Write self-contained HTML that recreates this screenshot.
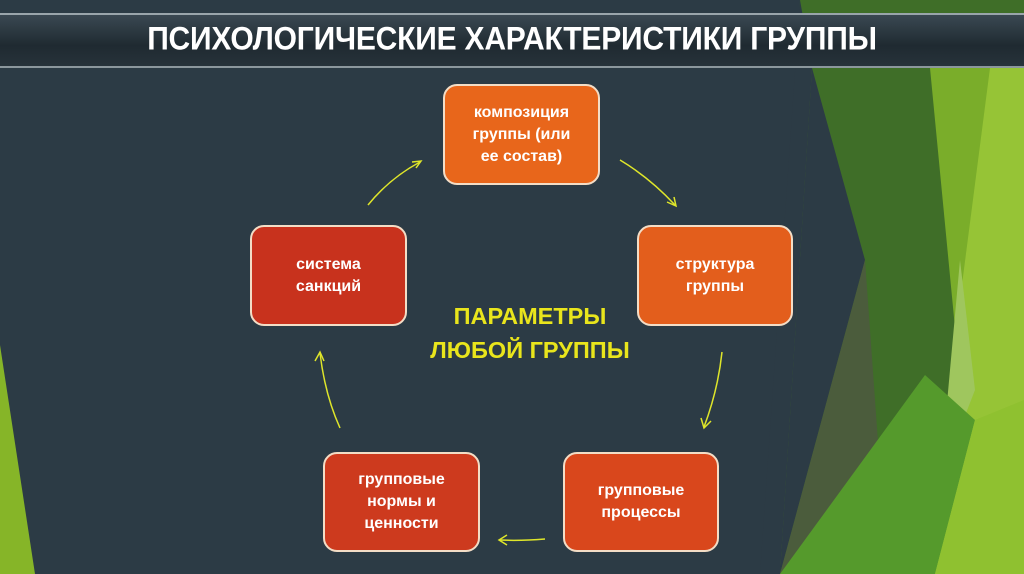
<!DOCTYPE html>
<html><head><meta charset="utf-8"><style>
html,body{margin:0;padding:0}
body{width:1024px;height:574px;position:relative;overflow:hidden;background:#2c3b45;font-family:"Liberation Sans",sans-serif}
svg{position:absolute;left:0;top:0}
.hdr{position:absolute;left:0;top:13px;width:1024px;height:55px;background:linear-gradient(#3a4852,#1f2a31 60%,#27323a);border-top:2px solid #9aa5ab;border-bottom:2px solid #8c979d;box-sizing:border-box}
.hdr div{position:absolute;left:0;width:1024px;top:8px;text-align:center;color:#fff;font-weight:bold;font-size:30px;letter-spacing:-0.2px;transform:scaleY(1.08)}
.n{position:absolute;box-sizing:border-box;border:2px solid #f3ddc6;border-radius:14px;color:#fff;font-weight:bold;font-size:16px;line-height:22px;display:flex;align-items:center;justify-content:center;text-align:center}
.c{position:absolute;left:380px;width:300px;top:299px;text-align:center;color:#e9e51c;font-weight:bold;font-size:23.5px;line-height:34px}
</style></head><body>
<svg width="1024" height="574">
<polygon points="0,345 35,574 0,574" fill="#86b528"/>
<polygon points="800,0 1024,0 1024,574 780,574" fill="#3f6e28"/>
<polygon points="812,68 780,574 760,574 800,0" fill="#2c3b45"/>
<polygon points="812,68 865,260 780,574" fill="#2c3b45"/>
<polygon points="865,260 880,470 800,574 780,574" fill="#4b5c3c"/>
<polygon points="930,68 1024,68 1024,574 900,574 960,380" fill="#7aad2a"/>
<polygon points="990,68 1024,68 1024,574 930,574 960,300" fill="#96c436"/>
<polygon points="960,260 975,390 940,480" fill="#9fc65e"/>
<polygon points="780,574 925,375 975,420 935,574" fill="#559a2c"/>
<polygon points="935,574 975,420 1024,400 1024,574" fill="#8fc130"/>
<g fill="none" stroke="#dfe62a" stroke-width="1.5">
<path d="M368,205 Q390,178 420,162"/><path d="M412,162 L421,161 L416,168"/>
<path d="M620,160 Q650,178 675,205"/><path d="M667,202 L676,206 L674,197"/>
<path d="M722,352 Q718,390 704,427"/><path d="M701,418 L704,428 L711,421"/>
<path d="M545,539 Q520,541 500,540"/><path d="M507,535 L499,540 L507,545"/>
<path d="M340,428 Q325,395 320,353"/><path d="M315,361 L320,352 L324,361"/>
</g>
</svg>
<div class="hdr"><div>ПСИХОЛОГИЧЕСКИЕ ХАРАКТЕРИСТИКИ ГРУППЫ</div></div>
<div class="n" style="left:443px;top:84px;width:157px;height:101px;background:#e8661b">композиция<br>группы (или<br>ее состав)</div>
<div class="n" style="left:637px;top:225px;width:156px;height:101px;background:#e35e1c">структура<br>группы</div>
<div class="n" style="left:250px;top:225px;width:157px;height:101px;background:#c8321d">система<br>санкций</div>
<div class="n" style="left:323px;top:452px;width:157px;height:100px;background:#cd3a1e">групповые<br>нормы и<br>ценности</div>
<div class="n" style="left:563px;top:452px;width:156px;height:100px;background:#d9471c">групповые<br>процессы</div>
<div class="c">ПАРАМЕТРЫ<br>ЛЮБОЙ ГРУППЫ</div>
</body></html>
